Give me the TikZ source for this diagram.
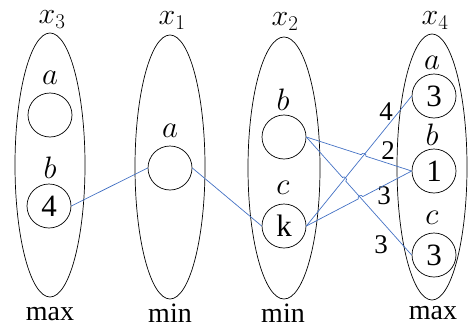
\RequirePackage{fix-cm}
\documentclass[tikz,border=0pt]{standalone}
\usepackage{fontspec}
\setmainfont{Liberation Serif}
\usetikzlibrary{shapes.geometric,calc}
\definecolor{linkblue}{RGB}{68,114,196}
\newcommand\hopline[4]{%
  \path (intersection of #1--#2 and #3--#4) coordinate (hp);
  \draw[link] (#1) -- ($(hp)!2.5pt!(#1)$) to[bend left=90,looseness=1.5] ($(hp)!2.5pt!(#2)$) -- (#2);}
\tikzset{
  grp/.style={draw, ellipse, minimum width=70pt, minimum height=264pt, inner sep=0pt, line width=0.7pt},
  val/.style={draw, circle, minimum size=44pt, inner sep=0pt, line width=0.7pt, font=\fontsize{31}{31}\selectfont},
  lbl/.style={inner sep=0pt, font=\fontsize{31}{31}\selectfont},
  hdr/.style={inner sep=0pt, anchor=base, font=\fontsize{30}{30}\selectfont},
  txt/.style={inner sep=0pt, anchor=base, font=\fontsize{28}{28}\selectfont},
  wt/.style={inner sep=0pt, font=\fontsize{27}{27}\selectfont},
  link/.style={draw=linkblue, line width=0.7pt},
}
\begin{document}
\begin{tikzpicture}[x=1pt,y=-1pt]
\useasboundingbox (0,0) rectangle (470,329);
% ellipses
\node[grp] (e3) at (50,165) {};
\node[grp] (e1) at (170,167) {};
\node[grp, minimum width=72pt, minimum height=262pt] (e2) at (284,168) {};
\node[grp, minimum height=266pt] (e4) at (432,167) {};
% headers
\node[hdr] (h3) at (52,24) {$x_3$};
\node[hdr] (h1) at (172,25) {$x_1$};
\node[hdr] (h2) at (285,26) {$x_2$};
\node[hdr] (h4) at (435,25) {$x_4$};
% footers
\node[txt] (f3) at (50,320) {max};
\node[txt] (f1) at (170,322) {min};
\node[txt] (f2) at (283,322) {min};
\node[txt] (f4) at (433,319) {max};
% circles
\node[val] (a3) at (50,115) {};
\node[val] (b3) at (49,206) {4};
\node[val] (a1) at (170,168) {};
\node[val] (b2) at (284,137) {};
\node[val] (k2) at (284,226) {k};
\node[val] (a4) at (434,96) {3};
\node[val] (b4) at (434,171) {1};
\node[val] (c4) at (434,255) {3};
% circle labels
\node[lbl] (la3) at (50,78) {$a$};
\node[lbl] (lb3) at (50,168) {$b$};
\node[lbl] (la1) at (170,131) {$a$};
\node[lbl] (lb2) at (283,100) {$b$};
\node[lbl] (lc2) at (283,188) {$c$};
\node[lbl] (la4) at (432,63) {$a$};
\node[lbl] (lb4) at (432,135) {$b$};
\node[lbl] (lc4) at (432,218) {$c$};
% edge weights
\node[wt] (w1) at (386,112) {4};
\node[wt] (w2) at (388,151) {2};
\node[wt] (w3) at (384,196) {3};
\node[wt] (w4) at (381,245) {3};
% edges
\draw[link] (b3.east) -- (a1.west);
\draw[link] (a1.east) -- (k2.west);
\draw[link] (k2.east) -- (a4.west);
\hopline{b2.east}{b4.west}{k2.east}{a4.west}
\hopline{b2.east}{c4.west}{k2.east}{a4.west}
\hopline{k2.east}{b4.west}{b2.east}{c4.west}
\end{tikzpicture}
\end{document}
